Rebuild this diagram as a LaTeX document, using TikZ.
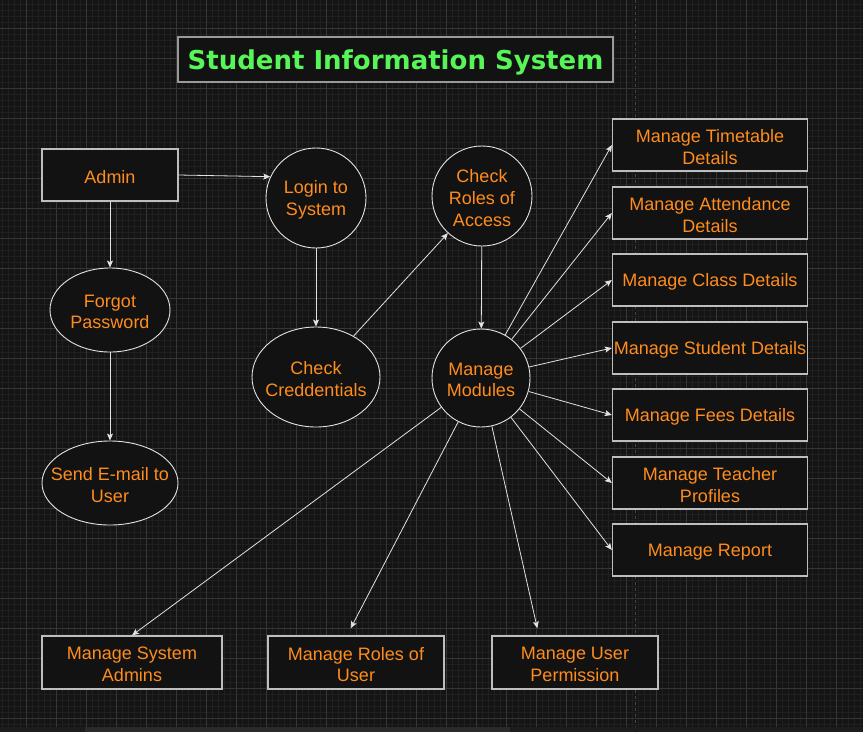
\documentclass[tikz,border=0pt]{standalone}
\usepackage{fontspec}
\setmainfont{Liberation Sans}
\newfontfamily\titlefont{DejaVu Sans}
\usetikzlibrary{shapes.geometric,arrows.meta,calc}

\definecolor{bg}{HTML}{141414}
\definecolor{gridminor}{HTML}{202020}
\definecolor{gridmajor}{HTML}{363636}
\definecolor{guide}{HTML}{484848}
\definecolor{stripdark}{HTML}{1C1C1C}
\definecolor{striplight}{HTML}{2A2A2A}
\definecolor{nodefill}{HTML}{121212}
\definecolor{boxline}{HTML}{BEBEBE}
\definecolor{titleline}{HTML}{9A9A9A}
\definecolor{labelorange}{RGB}{255,140,30}
\definecolor{titlegreen}{HTML}{58F558}
\definecolor{edge}{HTML}{E2E2E2}

\tikzset{
  lbl/.style={text=labelorange, font=\fontsize{18}{21.6}\selectfont, align=center, inner sep=0pt, yshift=-2pt},
  procbox/.style={draw=boxline, line width=1.3pt, fill=nodefill, rectangle, inner sep=0pt},
  proccircle/.style={draw=edge, line width=0.9pt, fill=nodefill, circle, inner sep=0pt},
  procoval/.style={draw=edge, line width=0.9pt, fill=nodefill, ellipse, inner sep=0pt},
  flow/.style={draw=edge, line width=0.8pt, -{Stealth[length=7pt,width=6pt,inset=1.5pt]}},
}

\begin{document}
\begin{tikzpicture}[x=1pt,y=-1pt]
  % canvas and grid
  \useasboundingbox (0,0) rectangle (863,732);
  \fill[bg] (0,0) rectangle (863,732);
  \foreach \k in {0,...,143} {
    \draw[gridminor, line width=0.8pt] ({2.7+6*\k},0) -- ({2.7+6*\k},732);
  }
  \foreach \k in {0,...,121} {
    \draw[gridminor, line width=0.8pt] (0,{4.3+6*\k}) -- (863,{4.3+6*\k});
  }
  \foreach \k in {0,...,28} {
    \draw[gridmajor, line width=0.9pt] ({26.7+30*\k},0) -- ({26.7+30*\k},732);
  }
  \foreach \k in {0,...,23} {
    \draw[gridmajor, line width=0.9pt] (0,{28.3+30*\k}) -- (863,{28.3+30*\k});
  }
  % page break guide and scroll strip
  \draw[guide, line width=0.9pt, dash pattern=on 3pt off 3pt] (635.5,0) -- (635.5,732);
  \fill[stripdark] (0,727) rectangle (863,732);
  \fill[striplight] (85,727) rectangle (510,732);

  % title
  \node[draw=titleline, line width=2pt, fill=nodefill, minimum width=435pt, minimum height=45pt]
        (title) at (395.5,59.5) {};
  \node[text=titlegreen, font=\titlefont\bfseries\fontsize{26}{30}\selectfont, inner sep=0pt, yshift=-3pt]
        at (title) {Student Information System};

  % left column
  \node[procbox, minimum width=136pt, minimum height=52pt] (admin) at (110,175) {};
  \node[lbl] at (admin) {Admin};
  \node[procoval, minimum width=120pt, minimum height=84pt] (forgot) at (110,310) {};
  \node[lbl] at (forgot) {Forgot\\Password};
  \node[procoval, minimum width=136pt, minimum height=84pt] (email) at (110,483) {};
  \node[lbl] at (email) {Send E-mail to\\User};

  % login flow
  \node[proccircle, minimum size=100pt] (login) at (316,198) {};
  \node[lbl] at (login) {Login to\\System};
  \node[procoval, minimum width=128pt, minimum height=100pt] (cred) at (316,377) {};
  \node[lbl] at (cred) {Check\\Creddentials};
  \node[proccircle, minimum size=100pt] (roles) at (482,196) {};
  \node[lbl] at (roles) {Check\\Roles of\\Access};
  \node[proccircle, minimum size=98pt] (modules) at (481,378) {};
  \node[lbl] at (modules) {Manage\\Modules};

  % module boxes on the right
  \foreach \name/\y/\txt in {
      timetable/145/{Manage Timetable\\Details},
      attendance/213/{Manage Attendance\\Details},
      class/280/{Manage Class Details},
      student/348/{Manage Student Details},
      fees/415/{Manage Fees Details},
      teacher/483/{Manage Teacher\\Profiles},
      report/550/{Manage Report}} {
    \node[procbox, minimum width=195pt, minimum height=52pt] (\name) at (710,\y) {};
    \node[lbl] at (\name) {\txt};
  }

  % module boxes along the bottom
  \node[procbox, minimum width=180pt, minimum height=53pt] (sysadm) at (132,662.5) {};
  \node[lbl] at (sysadm) {Manage System\\Admins};
  \node[procbox, minimum width=176pt, minimum height=53pt] (roleuser) at (356,662.5) {};
  \node[lbl] at (roleuser) {Manage Roles of\\User};
  \node[procbox, minimum width=166pt, minimum height=53pt] (perm) at (575,662.5) {};
  \node[lbl] at (perm) {Manage User\\Permission};
  \coordinate (roleusertip) at (350.7,628.3);
  \coordinate (permtip) at (537.3,628.3);

  % connectors
  \draw[flow] (admin.east) -- (login.155);
  \draw[flow] (admin) -- (forgot);
  \draw[flow] (forgot) -- (email);
  \draw[flow] (login) -- (cred);
  \draw[flow] (cred) -- (roles);
  \draw[flow] (roles) -- (modules);
  \foreach \name in {timetable,attendance,class,student,fees,teacher,report} {
    \draw[flow] (modules) -- (\name.west);
  }
  \draw[flow] (modules) -- (sysadm.north);
  \draw[flow] (modules) -- (roleusertip);
  \draw[flow] (modules) -- (permtip);
\end{tikzpicture}
\end{document}
